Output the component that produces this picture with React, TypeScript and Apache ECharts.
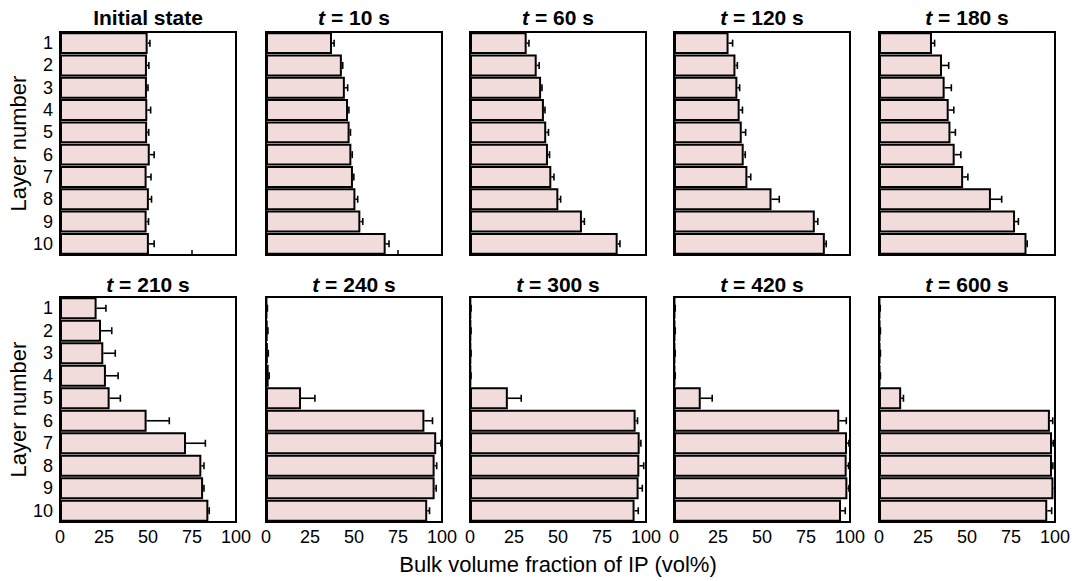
import React, { useEffect, useRef } from "react";
import * as echarts from "echarts";

const layers = ["1", "2", "3", "4", "5", "6", "7", "8", "9", "10"];
const panelTimes = ["", "10", "60", "120", "180", "210", "240", "300", "420", "600"];
const xTicks = [0, 25, 50, 75, 100];

const valInitial = [49.8, 49.4, 49.4, 49.6, 49.5, 51.0, 49.2, 50.5, 49.2, 50.5];
const errInitial = [1.3, 1.1, 0.6, 1.9, 0.9, 2.5, 2.5, 1.5, 1.1, 3.0];
const val10 = [37.5, 43.1, 44.8, 46.6, 47.5, 48.5, 49.4, 50.8, 53.6, 68.0];
const err10 = [1.2, 0.5, 1.6, 0.5, 0.5, 0.5, 0.5, 1.3, 1.4, 1.9];
const val60 = [32.2, 37.9, 40.4, 42.0, 43.3, 44.3, 46.2, 50.2, 63.6, 83.9];
const err60 = [1.3, 1.4, 0.5, 0.6, 1.3, 0.9, 1.5, 1.3, 1.4, 1.3];
const val120 = [31.0, 34.9, 36.0, 37.3, 38.5, 39.6, 41.7, 55.4, 80.0, 85.7];
const err120 = [2.3, 1.1, 1.3, 1.6, 2.2, 0.9, 1.9, 4.4, 1.7, 0.8];
const val180 = [30.1, 35.8, 37.3, 39.6, 40.6, 43.0, 47.8, 63.6, 77.3, 83.8];
const err180 = [1.5, 3.8, 3.8, 2.9, 2.8, 3.5, 2.7, 6.1, 1.9, 0.4];
const val210 = [20.8, 23.3, 24.6, 26.1, 28.2, 49.2, 71.6, 80.3, 81.3, 84.3];
const err210 = [5.3, 6.1, 6.8, 6.9, 6.1, 12.9, 11.0, 1.5, 0.5, 0.5];
const val240 = [0.5, 0.8, 1.0, 1.5, 19.9, 90.0, 96.7, 95.8, 95.8, 91.6];
const err240 = [0.3, 0.3, 0.3, 0.3, 7.9, 4.6, 2.7, 1.2, 0.9, 1.3];
const val300 = [0.4, 0.4, 0.4, 0.4, 21.5, 94.1, 96.4, 96.2, 95.8, 93.5];
const err300 = [0.2, 0.2, 0.2, 0.2, 7.6, 1.1, 0.7, 2.5, 2.1, 2.1];
const val420 = [0.5, 0.5, 0.5, 0.5, 15.2, 93.9, 98.3, 98.1, 98.5, 94.9];
const err420 = [0.2, 0.2, 0.2, 0.2, 6.5, 4.0, 1.1, 1.1, 0.9, 2.4];
const val600 = [0.5, 0.6, 0.6, 0.6, 12.6, 97.1, 98.3, 98.3, 99.1, 95.6];
const err600 = [0.2, 0.2, 0.2, 0.2, 1.3, 1.6, 0.7, 0.5, 0.9, 2.5];

const panelValues = [valInitial, val10, val60, val120, val180, val210, val240, val300, val420, val600];
const panelErrors = [errInitial, err10, err60, err120, err180, err210, err240, err300, err420, err600];

const FONT = "'Liberation Sans', Arial, sans-serif";
const gridLefts = [60, 266, 470, 674, 879];
const gridWidth = 176;
const rowTops = [32, 297];
const rowHeights = [223, 225];
const titleYs = [17, 284];

export default function App() {
  const ref = useRef<HTMLDivElement>(null);
  useEffect(() => {
    if (!ref.current) return;
    const chart = echarts.init(ref.current, null, { renderer: "svg" });
    const grids: any[] = [];
    const xAxes: any[] = [];
    const yAxes: any[] = [];
    const series: any[] = [];
    const graphics: any[] = [];
    panelValues.forEach((vals, i) => {
      const row = Math.floor(i / 5);
      const col = i % 5;
      grids.push({
        left: gridLefts[col],
        top: rowTops[row],
        width: gridWidth,
        height: rowHeights[row],
        show: true,
        borderColor: "#000",
        borderWidth: 2,
        backgroundColor: "transparent",
      });
      xAxes.push({
        type: "value",
        gridIndex: i,
        min: xTicks[0],
        max: xTicks[xTicks.length - 1],
        interval: xTicks[1] - xTicks[0],
        axisLine: { show: true, lineStyle: { color: "#000", width: 2 } },
        axisTick: { show: true, inside: true, length: 5, lineStyle: { color: "#000", width: 1.5 } },
        axisLabel: { show: row === 1, color: "#000", fontSize: 18, margin: 6, fontFamily: FONT },
        splitLine: { show: false },
        name: i === 7 ? "Bulk volume fraction of IP (vol%)" : "",
        nameLocation: "middle",
        nameGap: 31,
        nameTextStyle: { fontSize: 22, color: "#000", fontFamily: FONT },
      });
      yAxes.push({
        type: "category",
        gridIndex: i,
        data: layers,
        inverse: true,
        axisLine: { show: true, lineStyle: { color: "#000", width: 2 } },
        axisTick: { show: false },
        axisLabel: { show: col === 0, interval: 0, color: "#000", fontSize: 18, margin: 7, fontFamily: FONT },
        splitLine: { show: false },
        name: col === 0 ? "Layer number" : "",
        nameLocation: "middle",
        nameRotate: 90,
        nameGap: 30,
        nameTextStyle: { fontSize: 22, color: "#000", fontFamily: FONT },
      });
      series.push({
        type: "bar",
        xAxisIndex: i,
        yAxisIndex: i,
        data: vals,
        barCategoryGap: "2%",
        itemStyle: { color: "#f2dcdb", borderColor: "#000", borderWidth: 2 },
        z: 2,
      });
      const errs = panelErrors[i];
      series.push({
        type: "custom",
        xAxisIndex: i,
        yAxisIndex: i,
        data: vals.map((v, j) => [v, j, v + errs[j]]),
        encode: { x: [0, 2], y: 1 },
        z: 5,
        renderItem: (params: any, api: any) => {
          const cat = api.value(1);
          const p0 = api.coord([api.value(0), cat]);
          const p1 = api.coord([api.value(2), cat]);
          const h = 3.5;
          return {
            type: "group",
            children: [
              { type: "line", shape: { x1: p0[0], y1: p0[1], x2: p1[0], y2: p1[1] }, style: { stroke: "#000", lineWidth: 1.6 } },
              { type: "line", shape: { x1: p1[0], y1: p1[1] - h, x2: p1[0], y2: p1[1] + h }, style: { stroke: "#000", lineWidth: 1.6 } },
            ],
          };
        },
      });
      const t = panelTimes[i];
      graphics.push({
        type: "text",
        x: gridLefts[col] + gridWidth / 2,
        y: titleYs[row],
        style: {
          text: t === "" ? "Initial state" : `{i|t} = ${t} s`,
          fontSize: 21,
          fontWeight: "bold",
          fontFamily: FONT,
          fill: "#000",
          align: "center",
          verticalAlign: "middle",
          rich: {
            i: { fontStyle: "italic", fontWeight: "bold", fontSize: 21, fontFamily: FONT, fill: "#000" },
          },
        },
      });
    });
    chart.setOption({
      animation: false,
      backgroundColor: "#fff",
      grid: grids,
      xAxis: xAxes,
      yAxis: yAxes,
      series,
      graphic: graphics,
    });
    return () => chart.dispose();
  }, []);
  return (
    <div
      ref={ref}
      style={{ position: "fixed", left: 0, top: 0, width: 1075, height: 581 }}
    />
  );
}
